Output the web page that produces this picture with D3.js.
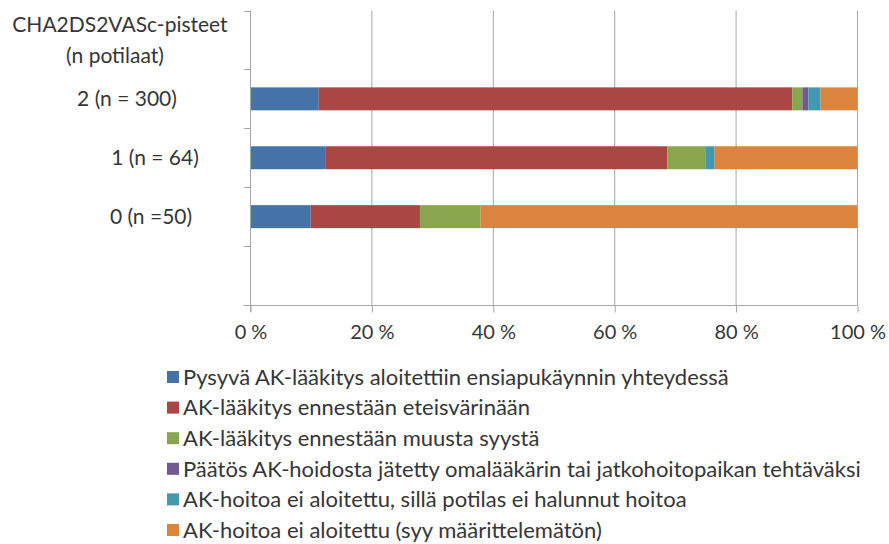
<!DOCTYPE html>
<html>
<head>
<meta charset="utf-8">
<script src="https://cdn.jsdelivr.net/npm/d3@7/dist/d3.min.js"></script>
<style>
  html, body { margin: 0; padding: 0; background: #fff; }
  svg { display: block; font-family: Lato, "Open Sans", sans-serif; }
</style>
</head>
<body>
<svg id="chart" width="889" height="544"></svg>
<script>
// Category rows on the vertical axis (top to bottom). The first row holds the
// axis heading, the last one is an empty spacer row.
const headingLines = ["CHA2DS2VASc-pisteet", "(n potilaat)"];
const categories = ["heading", "2 (n = 300)", "1 (n = 64)", "0 (n =50)", "spacer"];
const barCategories = ["2 (n = 300)", "1 (n = 64)", "0 (n =50)"];

// Share of patients (%) in each group, one array per outcome
const pysyvaAloitettu   = [11.33, 12.5, 10];
const eteisvarinaan     = [78, 56.25, 18];
const muustaSyysta      = [1.67, 6.25, 10];
const omalaakarille     = [1, 0, 0];
const eiHalunnut        = [2, 1.56, 0];
const maarittelematon   = [6, 23.44, 62];

const seriesNames = [
  "Pysyvä AK-lääkitys aloitettiin ensiapukäynnin yhteydessä",
  "AK-lääkitys ennestään eteisvärinään",
  "AK-lääkitys ennestään muusta syystä",
  "Päätös AK-hoidosta jätetty omalääkärin tai jatkohoitopaikan tehtäväksi",
  "AK-hoitoa ei aloitettu, sillä potilas ei halunnut hoitoa",
  "AK-hoitoa ei aloitettu (syy määrittelemätön)"
];
const seriesValues = [pysyvaAloitettu, eteisvarinaan, muustaSyysta, omalaakarille, eiHalunnut, maarittelematon];
const seriesColors = ["#4572A7", "#AA4643", "#89A54E", "#71588F", "#4198AF", "#DB843D"];
const xTicks = [0, 20, 40, 60, 80, 100];

// Layout
const plot = { left: 250, right: 857, top: 10.5, bottom: 305 };
const tickFont = 20;
const labelFont = 21;
const legendFont = 22;
const textColor = "#363636";
const axisColor = "#a6a6a6";

const svg = d3.select("#chart");

const x = d3.scaleLinear().domain([0, 100]).range([plot.left, plot.right]);
const y = d3.scaleBand().domain(categories).range([plot.top, plot.bottom]).paddingInner(0.61).paddingOuter(0.305);
const yStep = y.step();

// Build stacked rows
const rows = barCategories.map((cat, i) => {
  const o = { cat };
  seriesNames.forEach((name, s) => { o[name] = seriesValues[s][i]; });
  return o;
});
const stack = d3.stack().keys(seriesNames)(rows);

// Vertical gridlines
svg.append("g")
  .selectAll("line")
  .data(xTicks.filter(d => d > 0))
  .join("line")
  .attr("x1", d => x(d) + 0.5).attr("x2", d => x(d) + 0.5)
  .attr("y1", plot.top).attr("y2", plot.bottom)
  .attr("stroke", axisColor).attr("stroke-width", 1);

// Bars
svg.append("g")
  .selectAll("g")
  .data(stack)
  .join("g")
  .attr("fill", (d, i) => seriesColors[i])
  .selectAll("rect")
  .data(d => d)
  .join("rect")
  .attr("x", d => x(d[0]))
  .attr("width", d => Math.max(0, x(d[1]) - x(d[0])))
  .attr("y", d => y(d.data.cat))
  .attr("height", y.bandwidth());

// Bottom axis
const xAxis = d3.axisBottom(x)
  .tickValues(xTicks)
  .tickFormat(d => d + " %")
  .tickSize(7)
  .tickSizeOuter(0)
  .tickPadding(12);
const gx = svg.append("g")
  .attr("transform", `translate(0.5,${plot.bottom + 0.5})`)
  .call(xAxis);
gx.select(".domain").attr("stroke", axisColor).attr("d", `M${plot.left - 7},0H${plot.right}`);
gx.selectAll(".tick line").attr("stroke", axisColor);
gx.selectAll(".tick text")
  .attr("fill", textColor)
  .style("font-family", "Lato, sans-serif")
  .style("font-size", tickFont + "px");

// Left axis: ticks sit on the band boundaries
const boundaries = d3.range(categories.length + 1).map(i => plot.top + i * yStep);
const gy = svg.append("g");
gy.append("line")
  .attr("x1", plot.left + 0.5).attr("x2", plot.left + 0.5)
  .attr("y1", plot.top).attr("y2", plot.bottom + 7)
  .attr("stroke", axisColor);
gy.selectAll("line.tick")
  .data(boundaries.slice(0, -1))
  .join("line")
  .attr("class", "tick")
  .attr("x1", plot.left - 6).attr("x2", plot.left + 0.5)
  .attr("y1", d => Math.round(d) + 0.5).attr("y2", d => Math.round(d) + 0.5)
  .attr("stroke", axisColor);

// Category labels
const labelCenter = { "2 (n = 300)": 127, "1 (n = 64)": 155, "0 (n =50)": 151 };
gy.selectAll("text.cat")
  .data(barCategories)
  .join("text")
  .attr("class", "cat")
  .attr("x", d => labelCenter[d])
  .attr("y", d => y(d) + y.bandwidth() / 2)
  .attr("dy", "0.35em")
  .attr("text-anchor", "middle")
  .attr("fill", textColor)
  .style("font-size", labelFont + "px")
  .text(d => d);

// Heading in the top row
const headingMid = y("heading") + y.bandwidth() / 2;
gy.selectAll("text.head")
  .data(headingLines)
  .join("text")
  .attr("class", "head")
  .attr("x", (d, i) => i === 0 ? 120 : 115)
  .attr("y", (d, i) => headingMid + (i - 0.5) * 31)
  .attr("dy", "0.35em")
  .attr("text-anchor", "middle")
  .attr("fill", textColor)
  .style("font-size", labelFont + "px")
  .text(d => d);

// Legend
const legend = svg.append("g").attr("transform", "translate(167,377)");
const item = legend.selectAll("g")
  .data(seriesNames)
  .join("g")
  .attr("transform", (d, i) => `translate(0,${i * 30.6})`);
item.append("rect")
  .attr("x", 0).attr("y", -6)
  .attr("width", 12).attr("height", 12)
  .attr("fill", (d, i) => seriesColors[i]);
item.append("text")
  .attr("x", 16)
  .attr("dy", "0.35em")
  .attr("fill", textColor)
  .style("font-size", legendFont + "px")
  .text(d => d);
</script>
</body>
</html>
